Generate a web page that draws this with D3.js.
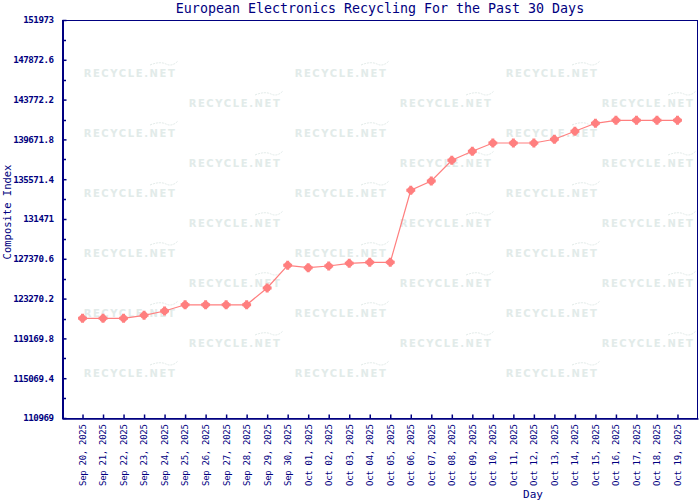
<!DOCTYPE html>
<html>
<head>
<meta charset="utf-8">
<script src="https://cdn.jsdelivr.net/npm/d3@7"></script>
<style>
  html, body { margin: 0; padding: 0; background: #fff; }
  svg { display: block; }
</style>
</head>
<body>
<div id="chart"></div>
<script>
const days = ["Sep 20, 2025","Sep 21, 2025","Sep 22, 2025","Sep 23, 2025","Sep 24, 2025","Sep 25, 2025","Sep 26, 2025","Sep 27, 2025","Sep 28, 2025","Sep 29, 2025","Sep 30, 2025","Oct 01, 2025","Oct 02, 2025","Oct 03, 2025","Oct 04, 2025","Oct 05, 2025","Oct 06, 2025","Oct 07, 2025","Oct 08, 2025","Oct 09, 2025","Oct 10, 2025","Oct 11, 2025","Oct 12, 2025","Oct 13, 2025","Oct 14, 2025","Oct 15, 2025","Oct 16, 2025","Oct 17, 2025","Oct 18, 2025","Oct 19, 2025"];
const values = [121241,121241,121241,121550,121993,122632,122632,122632,122632,124363,126702,126455,126630,126908,127011,127011,134429,135387,137520,138447,139302,139302,139302,139683,140508,141332,141641,141641,141641,141641];
const yTickValues = [110969,115069.4,119169.8,123270.2,127370.6,131471,135571.4,139671.8,143772.2,147872.6,151973];
const yTickLabels = ["110969","115069.4","119169.8","123270.2","127370.6","131471","135571.4","139671.8","143772.2","147872.6","151973"];
const titleText = "European Electronics Recycling For the Past 30 Days";
const yTitle = "Composite Index";
const xTitle = "Day";

const W = 700, H = 500;
const L = 62, R = 698, T = 20, B = 418;
const navy = "#000080";
const red = "#ff7f7f";

const svg = d3.select("#chart").append("svg").attr("width", W).attr("height", H);

// watermarks
const wmColor = "#e2ebe9";
const wm = svg.append("g");
for (let r = 0; r < 11; r++) {
  const y = 73 + r * 30;
  const xs = (r % 2 === 0) ? [130, 341, 552] : [235, 446, 648];
  xs.forEach(cx => {
    wm.append("text").attr("x", cx).attr("y", y + 4)
      .attr("text-anchor", "middle")
      .attr("font-family", "DejaVu Sans, sans-serif")
      .attr("font-weight", "bold").attr("font-size", "10px")
      .attr("letter-spacing", "1.6px")
      .attr("fill", wmColor).text("RECYCLE.NET");
    wm.append("path")
      .attr("d", `M${cx + 20},${y - 8} Q${cx + 30},${y - 12} ${cx + 36},${y - 9} Q${cx + 42},${y - 6} ${cx + 48},${y - 12}`)
      .attr("fill", "none").attr("stroke", wmColor).attr("stroke-width", 1)
      .attr("stroke-dasharray", "2,1");
  });
}

const x = d3.scalePoint().domain(days).range([L, R]).padding(1);
const y = d3.scaleLinear().domain([110969, 151973]).range([B, T]);

// frame
svg.append("rect").attr("x", L + 0.5).attr("y", T + 0.5)
  .attr("width", R - L - 1).attr("height", B - T)
  .attr("fill", "none").attr("stroke", navy).attr("stroke-width", 1);

// y axis
const yAxis = d3.axisLeft(y).tickValues(yTickValues)
  .tickFormat((d, i) => yTickLabels[i]).tickSizeInner(-4).tickSizeOuter(0).tickPadding(9);
const gy = svg.append("g").attr("transform", `translate(${L + 0.5},0)`).call(yAxis);
gy.select(".domain").attr("stroke", navy).attr("stroke-width", 2);
gy.selectAll(".tick line").attr("stroke", navy).attr("stroke-width", 1.5);
gy.selectAll(".tick text").attr("fill", navy)
  .attr("font-family", "DejaVu Sans Mono, monospace")
  .attr("font-weight", "bold").attr("font-size", "9.2px").attr("letter-spacing", "-0.5px");
// minor ticks
const minor = d3.pairs(yTickValues).map(p => (p[0] + p[1]) / 2);
svg.append("g").selectAll("line").data(minor).join("line")
  .attr("x1", L).attr("x2", L + 4)
  .attr("y1", d => Math.round(y(d)) + 0.5).attr("y2", d => Math.round(y(d)) + 0.5)
  .attr("stroke", navy).attr("stroke-width", 1.5);

// x axis
const xAxis = d3.axisBottom(x).tickSizeInner(-4).tickSizeOuter(0).tickPadding(6);
const gx = svg.append("g").attr("transform", `translate(0,${B + 0.5})`).call(xAxis);
gx.select(".domain").attr("stroke", navy).attr("stroke-width", 1.5);
gx.selectAll(".tick line").attr("stroke", navy).attr("stroke-width", 1.5);
gx.selectAll(".tick text").attr("fill", navy)
  .attr("font-family", "DejaVu Sans Mono, monospace")
  .attr("font-size", "9px").attr("letter-spacing", "-0.3px")
  .attr("transform", "rotate(-90)")
  .attr("text-anchor", "end")
  .attr("x", -6).attr("y", 0).attr("dy", "0.32em");

// line
svg.append("path").datum(values)
  .attr("d", d3.line().x((d, i) => x(days[i])).y(d => y(d)))
  .attr("fill", "none").attr("stroke", red).attr("stroke-width", 1.2);

// markers
const mk = svg.append("g").selectAll("g").data(values).join("g")
  .attr("transform", (d, i) => `translate(${x(days[i])},${y(d)})`);
mk.append("circle").attr("r", 3.6).attr("fill", red);
mk.append("path").attr("d", d3.symbol().type(d3.symbolCross).size(44)).attr("fill", red);

// title
svg.append("text").attr("x", 380).attr("y", 13)
  .attr("text-anchor", "middle").attr("fill", navy)
  .attr("font-family", "DejaVu Sans Mono, monospace").attr("font-size", "13.3px")
  .text(titleText);

// y title
svg.append("text").attr("transform", "translate(11,212) rotate(-90)")
  .attr("text-anchor", "middle").attr("fill", navy)
  .attr("font-family", "DejaVu Sans Mono, monospace").attr("font-size", "10.5px")
  .text(yTitle);

// x title
svg.append("text").attr("x", 533).attr("y", 498)
  .attr("text-anchor", "middle").attr("fill", navy)
  .attr("font-family", "DejaVu Sans Mono, monospace").attr("font-size", "11px")
  .text(xTitle);
</script>
</body>
</html>
